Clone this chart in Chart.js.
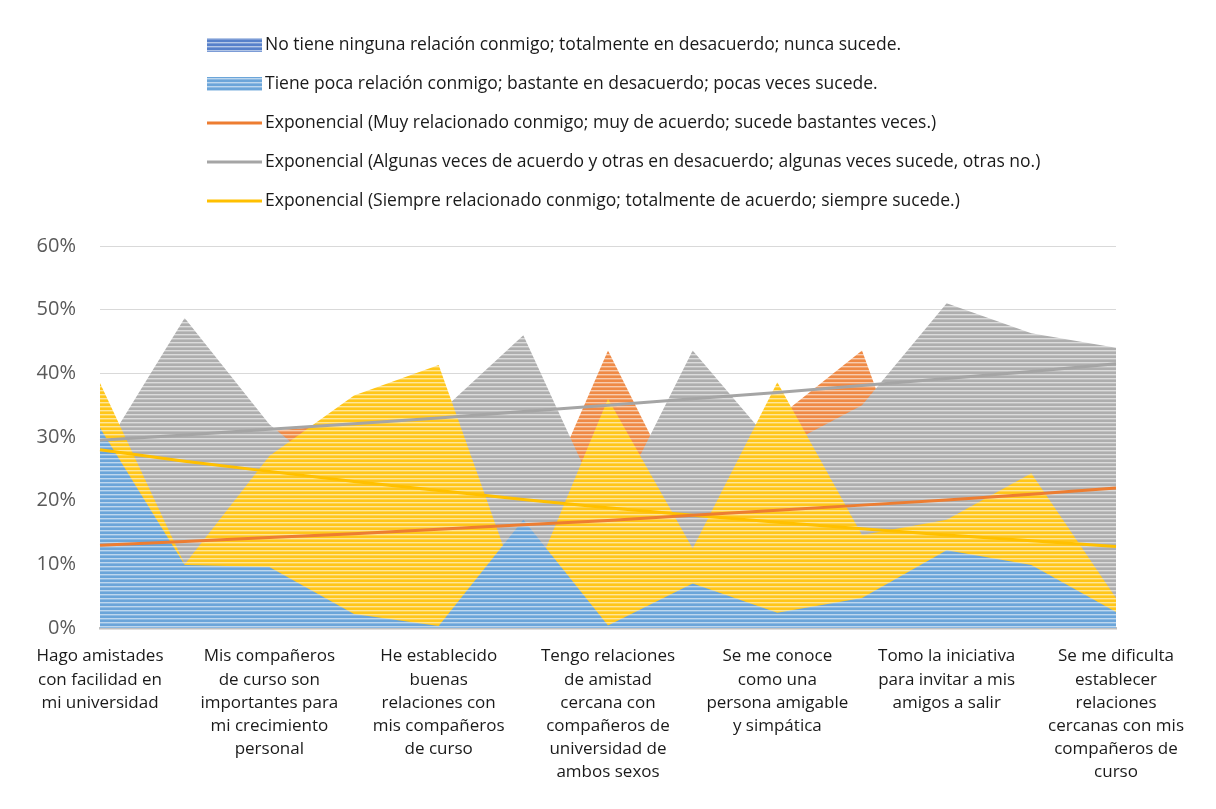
<!DOCTYPE html>
<html lang="es">
<head>
<meta charset="utf-8">
<title>Relaciones con compañeros</title>
<script src="https://cdn.jsdelivr.net/npm/chart.js@4.4.1/dist/chart.umd.min.js"></script>
<style>
  html, body { margin: 0; padding: 0; background: #fff; }
  #wrap { width: 1216px; height: 809px; position: relative; }
</style>
</head>
<body>
<div id="wrap"><canvas id="chart"></canvas></div>
<script>
// 13 categorías, solo se ven las etiquetas pares
const categories = [
    ['Hago amistades', 'con facilidad en', 'mi universidad'],
    '',
    ['Mis compañeros', 'de curso son', 'importantes para', 'mi crecimiento', 'personal'],
    '',
    ['He establecido', 'buenas', 'relaciones con', 'mis compañeros', 'de curso'],
    '',
    ['Tengo relaciones', 'de amistad', 'cercana con', 'compañeros de', 'universidad de', 'ambos sexos'],
    '',
    ['Se me conoce', 'como una', 'persona amigable', 'y simpática'],
    '',
    ['Tomo la iniciativa', 'para invitar a mis', 'amigos a salir'],
    '',
    ['Se me dificulta', 'establecer', 'relaciones', 'cercanas con mis', 'compañeros de', 'curso']
];

// valores en %
const noTiene        = [1.5, 0.5, 0.5, 0.5, 0, 1, 0, 0.5, 0.5, 0.5, 1, 0.5, 0.5];
const tienePoca      = [31.4, 9.9, 9.6, 2.2, 0.3, 17, 0.4, 7, 2.4, 4.7, 12.2, 9.9, 2.5];
const muyRelacionado = [1.5, 18, 31, 32, 18, 13, 43.6, 17, 33, 43.6, 7, 13.3, 13.3];
const algunasVeces   = [27, 48.7, 32, 21, 33.7, 46, 17, 43.6, 28, 35, 51, 46.3, 44];
const siempre        = [38.5, 10, 27, 36.5, 41.3, 4, 36, 12.5, 38.6, 14.6, 17, 24.3, 4.7];

// líneas de tendencia exponencial
const trendMuy      = [13.0, 13.6, 14.2, 14.8, 15.5, 16.2, 16.9, 17.7, 18.5, 19.3, 20.1, 21.0, 22.0];
const trendAlgunas  = [29.5, 30.3, 31.2, 32.1, 33.0, 34.0, 35.0, 36.0, 37.0, 38.1, 39.2, 40.3, 41.5];
const trendSiempre  = [28.0, 26.2, 24.6, 23.0, 21.6, 20.2, 18.9, 17.7, 16.6, 15.6, 14.6, 13.7, 12.8];

const yTicks = [0, 10, 20, 30, 40, 50, 60];

const azulOscuro = '#4472C4';
const azulClaro = '#5B9BD5';
const naranja = '#ED7D31';
const gris = '#A5A5A5';
const amarillo = '#FFC000';

const FONT = '"Open Sans", "Noto Sans", sans-serif';

const canvas = document.getElementById('chart');
const ctx = canvas.getContext('2d');

function tint(hex, t) {
    const n = parseInt(hex.slice(1), 16);
    const r = (n >> 16) & 255, g = (n >> 8) & 255, b = n & 255;
    const m = v => Math.round(v + (255 - v) * t);
    return `rgb(${m(r)}, ${m(g)}, ${m(b)})`;
}

// relleno rayado horizontal como en Excel
function stripes(hex) {
    const c = document.createElement('canvas');
    c.width = 8;
    c.height = 4;
    const g = c.getContext('2d');
    const rows = [0.1, 0.1, 0.6, 0.3];
    rows.forEach((t, i) => {
        g.fillStyle = tint(hex, t);
        g.fillRect(0, i, 8, 1);
    });
    return ctx.createPattern(c, 'repeat');
}

function area(label, data, color, order, legend) {
    return {
        label: label,
        data: data,
        fill: 'origin',
        backgroundColor: stripes(color),
        borderWidth: 0,
        pointRadius: 0,
        pointHoverRadius: 0,
        tension: 0,
        order: order,
        legendType: legend ? 'box' : null
    };
}

function trend(label, data, color) {
    return {
        label: label,
        data: data,
        fill: false,
        borderColor: color,
        borderWidth: 3,
        pointRadius: 0,
        tension: 0,
        order: 0,
        legendType: 'line'
    };
}

// leyenda vertical dibujada a mano arriba del gráfico
const legendPlugin = {
    id: 'stackLegend',
    afterDraw(chart) {
        const c = chart.ctx;
        const items = chart.data.datasets.filter(d => d.legendType);
        let y = 45;
        c.save();
        c.font = `17.5px ${FONT}`;
        c.textBaseline = 'middle';
        c.textAlign = 'left';
        items.forEach(d => {
            if (d.legendType === 'box') {
                c.fillStyle = d.backgroundColor;
                c.fillRect(207, y - 7, 55, 14);
            } else {
                c.strokeStyle = d.borderColor;
                c.lineWidth = 3;
                c.beginPath();
                c.moveTo(207, y);
                c.lineTo(262, y);
                c.stroke();
            }
            c.fillStyle = '#1a1a1a';
            c.fillText(d.label, 265, y);
            y += 39;
        });
        c.restore();
    }
};

new Chart(ctx, {
    type: 'line',
    data: {
        labels: categories,
        datasets: [
            area('No tiene ninguna relación conmigo; totalmente en desacuerdo; nunca sucede.', noTiene, azulOscuro, 2, true),
            area('Tiene poca relación conmigo; bastante en desacuerdo; pocas veces sucede.', tienePoca, azulClaro, 1, true),
            area('Muy relacionado conmigo; muy de acuerdo; sucede bastantes veces.', muyRelacionado, naranja, 5, false),
            area('Algunas veces de acuerdo y otras en desacuerdo; algunas veces sucede, otras no.', algunasVeces, gris, 4, false),
            area('Siempre relacionado conmigo; totalmente de acuerdo; siempre sucede.', siempre, amarillo, 3, false),
            trend('Exponencial (Muy relacionado conmigo; muy de acuerdo; sucede bastantes veces.)', trendMuy, naranja),
            trend('Exponencial (Algunas veces de acuerdo y otras en desacuerdo; algunas veces sucede, otras no.)', trendAlgunas, gris),
            trend('Exponencial (Siempre relacionado conmigo; totalmente de acuerdo; siempre sucede.)', trendSiempre, amarillo)
        ]
    },
    options: {
        responsive: true,
        maintainAspectRatio: false,
        animation: false,
        layout: {
            padding: { top: 246, right: 100, bottom: 0, left: 0 }
        },
        plugins: {
            legend: { display: false },
            tooltip: { enabled: false }
        },
        scales: {
            x: {
                offset: false,
                grid: { display: false, drawTicks: false },
                border: { display: true, color: '#BFBFBF', width: 2.5 },
                ticks: {
                    autoSkip: false,
                    maxRotation: 0,
                    padding: 17,
                    color: '#1a1a1a',
                    font: { family: FONT, size: 17, lineHeight: 1.36 }
                },
                afterFit: scale => { scale.height = 181; }
            },
            y: {
                min: 0,
                max: 60,
                afterBuildTicks: scale => { scale.ticks = yTicks.map(v => ({ value: v })); },
                grid: { color: '#D9D9D9', lineWidth: 1, drawTicks: false },
                border: { display: false },
                ticks: {
                    padding: 24,
                    color: '#595959',
                    font: { family: FONT, size: 20 },
                    callback: v => v + '%'
                },
                afterFit: scale => { scale.width = 100; }
            }
        }
    },
    plugins: [legendPlugin]
});
</script>
</body>
</html>
